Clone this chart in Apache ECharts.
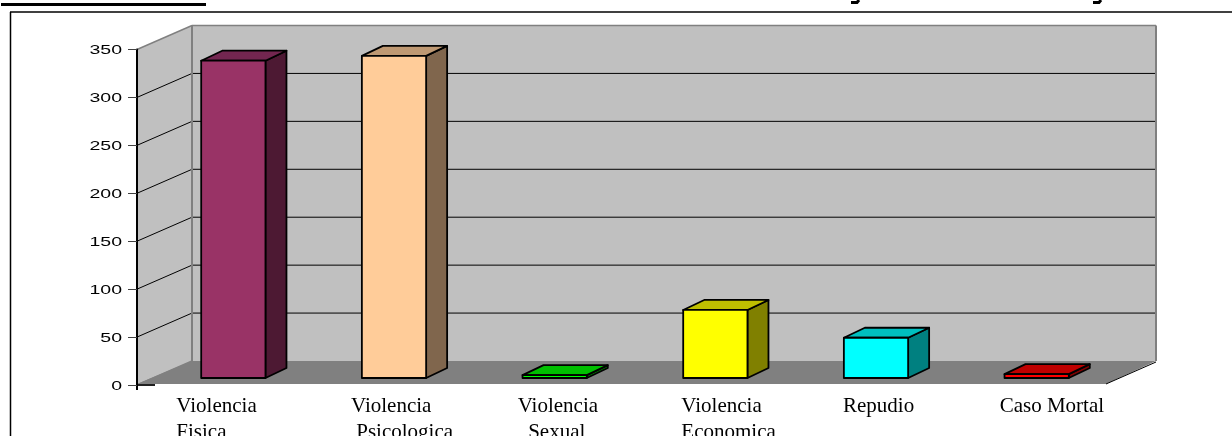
<!DOCTYPE html>
<html>
<head>
<meta charset="utf-8">
<style>
  html, body { margin: 0; padding: 0; background: #fff; overflow: hidden; }
  #chart { width: 1232px; height: 436px; }
</style>
<script src="https://cdn.jsdelivr.net/npm/echarts@6/dist/echarts.min.js"></script>
</head>
<body>
<div id="chart"></div>
<script>
const categories = ['Violencia\nFisica', 'Violencia\n Psicologica', 'Violencia\n  Sexual', 'Violencia\nEconomica', 'Repudio', 'Caso Mortal'];
const values = [331, 336, 3, 71, 42, 4];
const tickLabels = [0, 50, 100, 150, 200, 250, 300, 350];

// front, top and side colour of each bar
const faceColors = ['#993366', '#ffcc99', '#00ff00', '#ffff00', '#00ffff', '#ff0000'];
const topColors = ['#732650', '#bf9973', '#00bf00', '#bfbf00', '#00bfbf', '#bf0000'];
const sideColors = ['#4d1933', '#80664d', '#008000', '#808000', '#008080', '#800000'];

// the hand placed labels sit off their category centres
const labelShift = [-41, -27, -21, -18, -17, -21];

// depth of the walls, of the gap before a bar, and of a bar
const WALL = [55, -24];
const GAP = [16, -7];
const BAR = [21, -10];

const chart = echarts.init(document.getElementById('chart'));

const line = (x1, y1, x2, y2, stroke, lineWidth) => ({
  type: 'line',
  shape: { x1, y1, x2, y2 },
  style: { stroke, lineWidth },
});

const poly = (points, fill) => ({
  type: 'polygon',
  shape: { points },
  style: { fill, stroke: null },
});

const renderWalls = (params, api) => {
  const left = params.coordSys.x;
  const right = params.coordSys.x + params.coordSys.width;
  const y0 = api.coord([0, 0])[1];
  const yTop = api.coord([0, 350])[1];
  const backL = left + WALL[0];
  const backR = right + WALL[0];
  const children = [
    poly([[left, yTop], [backL, yTop + WALL[1]], [backL, y0 + WALL[1]], [left, y0]], '#c0c0c0'),
    poly([[backL, yTop + WALL[1]], [backR, yTop + WALL[1]], [backR, y0 + WALL[1]], [backL, y0 + WALL[1]]], '#c0c0c0'),
    poly([[left, y0 - 1], [backL, y0 + WALL[1]], [backR, y0 + WALL[1]], [right + 5, y0 - 1]], '#808080'),
  ];
  // gridlines run up the side wall, then along the back wall
  tickLabels.slice(1, -1).forEach((v) => {
    const y = api.coord([0, v])[1];
    children.push(line(left, y, backL, y + WALL[1], '#000', 1));
    children.push(line(backL, y + WALL[1], backR, y + WALL[1], '#000', 1));
  });
  children.push(
    line(left, yTop, backL, yTop + WALL[1], '#808080', 1.5),
    line(backL, yTop + WALL[1], backR, yTop + WALL[1], '#808080', 1.5),
    line(backL, yTop + WALL[1], backL, y0 + WALL[1], '#808080', 2),
    line(backR, yTop + WALL[1], backR, y0 + WALL[1], '#808080', 2),
    line(left, y0, backL, y0 + WALL[1], '#808080', 1.5),
    line(right + 5, y0 - 1, backR, y0 + WALL[1] + 1, '#000', 1),
    line(left, y0, left + 18, y0, '#202020', 2),
    line(left, y0, left, y0 + 5, '#000', 2)
  );
  return { type: 'group', children };
};

const renderBar = (params, api) => {
  const i = api.value(0);
  const width = api.size([1, 0])[0] * 0.4;
  const base = api.coord([i, 0]);
  const top = api.coord([i, api.value(1)]);
  const x1 = base[0] + GAP[0] - width / 2;
  const x2 = x1 + width;
  const yb = base[1] + GAP[1];
  const yt = top[1] + GAP[1];
  const edge = { stroke: '#000', lineWidth: 1.8, lineJoin: 'round' };
  return {
    type: 'group',
    children: [
      { type: 'polygon', shape: { points: [[x2, yt], [x2 + BAR[0], yt + BAR[1]], [x2 + BAR[0], yb + BAR[1]], [x2, yb]] }, style: { fill: sideColors[i], ...edge } },
      { type: 'polygon', shape: { points: [[x1, yt], [x1 + BAR[0], yt + BAR[1]], [x2 + BAR[0], yt + BAR[1]], [x2, yt]] }, style: { fill: topColors[i], ...edge } },
      { type: 'rect', shape: { x: x1, y: yt, width, height: yb - yt }, style: { fill: faceColors[i], ...edge } },
    ],
  };
};

const renderCategoryLabel = (params, api) => {
  const i = api.value(0);
  return {
    type: 'text',
    x: api.coord([i, 0])[0] + labelShift[i],
    y: 393.5,
    style: {
      text: categories[i],
      align: 'left',
      verticalAlign: 'top',
      fontFamily: 'Liberation Serif',
      fontSize: 21,
      lineHeight: 26,
      fill: '#000',
    },
  };
};

// Arial at this size comes out too narrow, the original numbers are stretched
const renderTickLabel = (params, api) => {
  const v = api.value(1);
  return {
    type: 'text',
    x: 122,
    y: api.coord([0, v])[1] + 1,
    scaleX: 1.5,
    style: {
      text: String(v),
      align: 'right',
      verticalAlign: 'middle',
      fontFamily: 'Liberation Sans',
      fontSize: 13,
      fill: '#000',
    },
  };
};

chart.setOption({
  animation: false,
  backgroundColor: '#fff',
  grid: { left: 137, top: 49.5, width: 964, height: 335.5 },
  xAxis: {
    type: 'category',
    data: categories,
    axisLine: { show: false },
    axisTick: { show: false },
    axisLabel: { show: false },
  },
  yAxis: {
    type: 'value',
    min: 0,
    max: 350,
    interval: 50,
    z: 10,
    axisLine: { show: true, lineStyle: { color: '#000', width: 2 } },
    axisTick: { show: true, length: 9, lineStyle: { color: '#404040', width: 1 } },
    axisLabel: { show: false },
    splitLine: { show: false },
  },
  graphic: [
    { type: 'rect', shape: { x: 1, y: 3, width: 205, height: 3 }, style: { fill: '#000' } },
    { type: 'line', shape: { x1: 10, y1: 12, x2: 1232, y2: 12 }, style: { stroke: '#000', lineWidth: 1.5 } },
    { type: 'line', shape: { x1: 10.5, y1: 12, x2: 10.5, y2: 436 }, style: { stroke: '#000', lineWidth: 1.5 } },
    { type: 'polyline', shape: { points: [[859, 0], [857, 2.5], [851, 2.5]] }, style: { stroke: '#000', lineWidth: 3, fill: null } },
    { type: 'polyline', shape: { points: [[1101, 0], [1099, 2.5], [1093, 2.5]] }, style: { stroke: '#000', lineWidth: 3, fill: null } },
  ],
  series: [
    { type: 'custom', renderItem: renderWalls, data: [[0, 0]], z: 1, silent: true },
    {
      type: 'custom',
      renderItem: renderBar,
      data: values.map((v, i) => [i, v]),
      encode: { x: 0, y: 1 },
      z: 2,
    },
    { type: 'custom', renderItem: renderCategoryLabel, data: categories.map((c, i) => [i, 0]), z: 3, silent: true },
    { type: 'custom', renderItem: renderTickLabel, data: tickLabels.map((v) => [0, v]), z: 3, silent: true },
  ],
});
</script>
</body>
</html>
